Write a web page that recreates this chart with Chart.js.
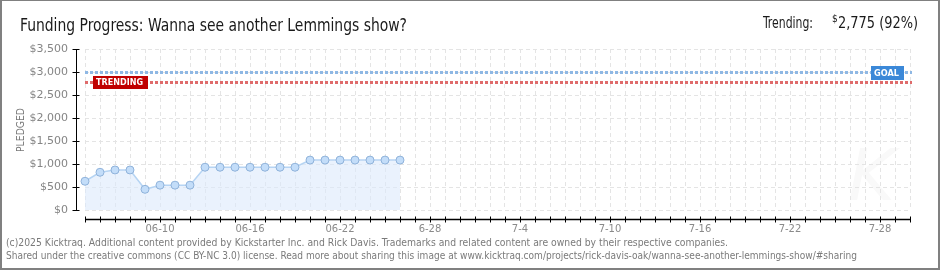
<!DOCTYPE html>
<html>
<head>
<meta charset="utf-8">
<script src="https://cdn.jsdelivr.net/npm/chart.js@4/dist/chart.umd.min.js"></script>
<style>
  html, body { margin: 0; padding: 0; background: #fff; }
  #wrap { width: 940px; height: 270px; position: relative; }
</style>
</head>
<body>
<div id="wrap"><canvas id="chart" width="940" height="270"></canvas></div>
<script>
// --- data ---
const chartTitle = 'Funding Progress: Wanna see another Lemmings show?';
const footerLines = [
    '(c)2025 Kicktraq. Additional content provided by Kickstarter Inc. and Rick Davis. Trademarks and related content are owned by their respective companies.',
    'Shared under the creative commons (CC BY-NC 3.0) license. Read more about sharing this image at www.kicktraq.com/projects/rick-davis-oak/wanna-see-another-lemmings-show/#sharing'
];
// pledged per day, starting 06-05
const pledged = [625, 820, 870, 870, 450, 540, 540, 540, 930, 930, 930, 930, 930, 930, 930,
                 1085, 1085, 1085, 1085, 1085, 1085, 1085];
const goal = 3000;
const trending = 2775;
const trendingPct = 92;
const tickLabels = ['06-10', '06-16', '06-22', '6-28', '7-4', '7-10', '7-16', '7-22', '7-28'];
const firstLabelIdx = 5;   // 06-10 is the 6th day
const labelEvery = 6;
const yMax = 3500;

// one category per day, 06-05 .. 07-30
const days = [];
for (let d = new Date(2025, 5, 5); d <= new Date(2025, 6, 30); d.setDate(d.getDate() + 1)) {
    days.push((d.getMonth() + 1) + '-' + d.getDate());
}

const narrow = '"Liberation Sans Narrow", "DejaVu Sans Condensed", sans-serif';

// draw text squeezed/stretched to a given width
function fitText(ctx, text, x, y, width, align) {
    const w = ctx.measureText(text).width;
    const s = width / w;
    ctx.save();
    ctx.translate(x, y);
    ctx.scale(s, 1);
    ctx.textAlign = align || 'left';
    ctx.fillText(text, 0, 0);
    ctx.restore();
}

function tagBox(ctx, x, y, w, h, color, text) {
    ctx.fillStyle = color;
    ctx.fillRect(x, y, w, h);
    ctx.fillStyle = '#fff';
    ctx.font = 'bold 9px "DejaVu Sans"';
    ctx.textBaseline = 'middle';
    fitText(ctx, text, x + 3, y + h / 2 + 0.5, w - 8);
    ctx.textBaseline = 'alphabetic';
}

const kicktraqDecor = {
    id: 'kicktraqDecor',
    beforeDraw(chart) {
        const ctx = chart.ctx;
        // faint watermark
        ctx.save();
        ctx.fillStyle = '#f9f9f9';
        ctx.font = 'italic 72px "DejaVu Sans"';
        ctx.fillText('K', 848, 200);
        ctx.restore();
    },
    afterDraw(chart) {
        const ctx = chart.ctx;
        const xs = chart.scales.x, ys = chart.scales.y, area = chart.chartArea;
        ctx.save();

        // goal + trending dotted lines
        const lines = [[goal, '#8fb8e4'], [trending, '#df6b6b']];
        for (const [v, c] of lines) {
            const y = Math.round(ys.getPixelForValue(v)) + 0.5;
            ctx.strokeStyle = c;
            ctx.lineWidth = 3;
            ctx.setLineDash([3, 2]);
            ctx.beginPath();
            ctx.moveTo(area.left, y);
            ctx.lineTo(area.right + 2, y);
            ctx.stroke();
        }
        ctx.setLineDash([]);

        // y axis (detached, left of plot)
        const ax = area.left - 9 + 0.5;
        const yTop = ys.getPixelForValue(yMax), yBot = ys.getPixelForValue(0);
        ctx.strokeStyle = '#000';
        ctx.lineWidth = 1;
        ctx.beginPath();
        ctx.moveTo(ax, yTop);
        ctx.lineTo(ax, yBot);
        ctx.stroke();
        for (const t of ys.ticks) {
            const y = Math.round(ys.getPixelForValue(t.value)) + 0.5;
            ctx.beginPath();
            if (t.value % 500 === 0) {
                ctx.strokeStyle = '#000';
                ctx.moveTo(ax - 4, y);
                ctx.lineTo(ax + 3, y);
            } else {
                ctx.strokeStyle = '#e00000';
                ctx.moveTo(ax - 4, y);
                ctx.lineTo(ax, y);
            }
            ctx.stroke();
        }

        // x axis (detached, under plot)
        const xy = Math.round(area.bottom + 9) + 0.5;
        ctx.strokeStyle = '#000';
        ctx.lineWidth = 1.5;
        ctx.beginPath();
        ctx.moveTo(xs.getPixelForValue(0), xy);
        ctx.lineTo(xs.getPixelForValue(days.length - 1), xy);
        ctx.stroke();
        ctx.lineWidth = 1;
        for (let i = 0; i < days.length; i++) {
            const x = Math.round(xs.getPixelForValue(i)) + 0.5;
            ctx.beginPath();
            ctx.moveTo(x, xy - 3);
            ctx.lineTo(x, xy + 3);
            ctx.stroke();
        }

        // tags
        tagBox(ctx, area.left + 8, Math.round(ys.getPixelForValue(trending)) - 6, 55, 13, '#c00000', 'TRENDING');
        tagBox(ctx, area.right - 39, Math.round(ys.getPixelForValue(goal)) - 6, 33, 14, '#3b88d8', 'GOAL');

        // y title
        ctx.fillStyle = '#777';
        ctx.font = '10px "DejaVu Sans"';
        ctx.save();
        ctx.translate(23.5, 130);
        ctx.rotate(-Math.PI / 2);
        fitText(ctx, 'PLEDGED', 0, 0, 44, 'center');
        ctx.restore();

        // title + trending readout
        ctx.fillStyle = '#1a1a1a';
        ctx.font = '17px ' + narrow;
        fitText(ctx, chartTitle, 20, 30.5, 387);
        ctx.font = '16px ' + narrow;
        fitText(ctx, 'Trending:', 763, 28, 50);
        fitText(ctx, '2,775 (' + trendingPct + '%)', 838, 28, 80);
        ctx.font = '10px ' + narrow;
        ctx.fillText('$', 832, 22);

        // footer
        ctx.fillStyle = '#7a7a7a';
        ctx.font = '10px ' + narrow;
        fitText(ctx, footerLines[0], 6, 245.5, 722);
        fitText(ctx, footerLines[1], 6, 258.5, 851);

        // frame
        ctx.fillStyle = '#808080';
        ctx.fillRect(0, 0, 940, 1);
        ctx.fillRect(0, 0, 2, 270);
        ctx.fillRect(938, 0, 2, 270);
        ctx.fillRect(0, 268, 940, 2);

        ctx.restore();
    }
};

new Chart(document.getElementById('chart'), {
    type: 'line',
    data: {
        labels: days,
        datasets: [{
            label: 'Pledged',
            data: pledged,
            borderColor: '#b6d4f3',
            borderWidth: 1.5,
            backgroundColor: 'rgba(220, 234, 251, 0.6)',
            fill: 'origin',
            tension: 0,
            pointRadius: 4,
            pointBackgroundColor: '#c3ddf9',
            pointBorderColor: '#8fb2da',
            pointBorderWidth: 1
        }]
    },
    options: {
        responsive: false,
        animation: false,
        devicePixelRatio: 1,
        layout: { padding: { top: 49, right: 30, left: 0, bottom: 0 } },
        plugins: {
            legend: { display: false },
            tooltip: { enabled: false }
        },
        scales: {
            x: {
                type: 'category',
                offset: false,
                grid: { color: '#e4e4e4', drawTicks: false },
                border: { display: false, dash: [4, 3] },
                ticks: {
                    autoSkip: false,
                    maxRotation: 0,
                    padding: 13,
                    color: '#8a8a8a',
                    font: { family: 'DejaVu Sans', size: 10 },
                    callback: (v, i) => (i >= firstLabelIdx && (i - firstLabelIdx) % labelEvery === 0)
                        ? tickLabels[(i - firstLabelIdx) / labelEvery] : ''
                },
                afterFit: (s) => { s.height = 60; }
            },
            y: {
                min: 0,
                max: yMax,
                grid: {
                    drawTicks: false,
                    color: (c) => (c.tick && c.tick.value % 500 === 0) ? '#e4e4e4' : 'rgba(0,0,0,0)'
                },
                border: { display: false, dash: [4, 3] },
                ticks: {
                    stepSize: 250,
                    padding: 17,
                    color: '#858585',
                    font: { family: 'DejaVu Sans', size: 11 },
                    callback: (v) => v % 500 === 0 ? '$' + v.toLocaleString('en-US') : ''
                },
                afterFit: (s) => { s.width = 85; }
            }
        }
    },
    plugins: [kicktraqDecor]
});
</script>
</body>
</html>
